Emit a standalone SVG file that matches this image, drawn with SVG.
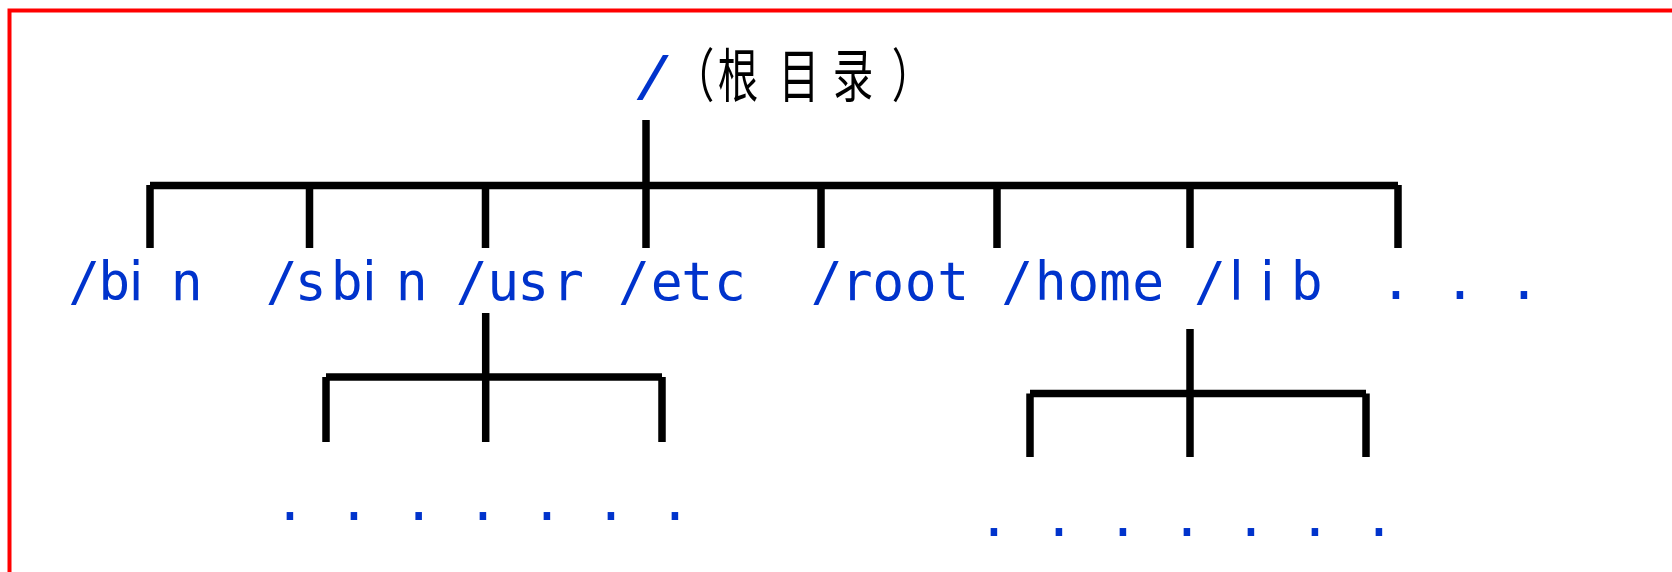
<svg xmlns="http://www.w3.org/2000/svg" width="1672" height="572" viewBox="0 0 1672 572">
  <style>
    .lbl { font-family: "DejaVu Sans Mono", "Liberation Mono", monospace; font-size: 53px; fill: #0033cc; text-anchor: middle; }
    .thin { font-family: "DejaVu Sans", "Liberation Sans", sans-serif; }
    .cn { font-family: "Noto Sans CJK SC", "Noto Sans CJK JP", sans-serif; font-size: 58px; fill: #000000; text-anchor: middle; }
    .slash { font-family: "DejaVu Sans", "Liberation Sans", sans-serif; font-weight: bold; font-size: 55px; fill: #0033cc; text-anchor: middle; }
    .wire { fill: none; stroke: #000000; stroke-width: 7.5; stroke-linecap: butt; }
  </style>

  <rect x="0" y="0" width="1672" height="572" fill="#ffffff"/>
  <!-- frame: left and top edges only -->
  <path d="M9.5,572 V10.5 H1672" fill="none" stroke="#ff0000" stroke-width="4"/>

  <!-- tree connectors -->
  <g id="connectors" class="wire">
    <!-- root trunk and main bus -->
    <path d="M646,120 V185.5"/>
    <path d="M150,185.5 H1398"/>
    <path d="M150,185 V248 M309.5,185 V248 M485.5,185 V248 M646,185 V248 M821,185 V248 M997,185 V248 M1190,185 V248 M1398,185 V248"/>
    <!-- /usr branch -->
    <path d="M485.7,313 V442"/>
    <path d="M326,377 H662"/>
    <path d="M326,377 V442 M662,377 V442"/>
    <!-- /home branch -->
    <path d="M1190,329 V457"/>
    <path d="M1030,393.5 H1366"/>
    <path d="M1030,393.5 V457 M1366,393.5 V457"/>
  </g>

  <!-- root directory -->
  <g id="node-root">
    <text class="slash" transform="translate(648,95) skewX(-15)" x="0" y="0">/</text>
    <text class="cn" transform="scale(0.7,1)" x="991.4 1054.3 1141.4 1218.6 1302.9" y="97">（根目录）</text>
  </g>

  <!-- first-level directories -->
  <g id="node-bin">
    <text class="lbl" y="300"><tspan x="84.2">/</tspan><tspan x="114.2">b</tspan><tspan class="thin" x="136">i</tspan><tspan x="186.7">n</tspan></text>
  </g>
  <g id="node-sbin">
    <text class="lbl" y="300"><tspan x="281.7">/</tspan><tspan x="310.7">s</tspan><tspan x="346.7">b</tspan><tspan class="thin" x="369.3">i</tspan><tspan x="411.7">n</tspan></text>
  </g>
  <g id="node-usr">
    <text class="lbl" x="471.7 503.3 533.3 568" y="300">/usr</text>
  </g>
  <g id="node-etc">
    <text class="lbl" x="634 666.7 697.3 730" y="300">/etc</text>
  </g>
  <g id="node-rootdir">
    <text class="lbl" x="826.7 856.7 888.3 920.7 953.3" y="300">/root</text>
  </g>
  <g id="node-home">
    <text class="lbl" x="1017.3 1050.7 1083.3 1115 1148.3" y="300">/home</text>
  </g>
  <g id="node-lib">
    <text class="lbl" y="300"><tspan x="1210">/</tspan><tspan class="thin" x="1236.3">l</tspan><tspan class="thin" x="1267.3">i</tspan><tspan x="1306.7">b</tspan></text>
  </g>
  <g id="node-more">
    <text class="lbl" x="1396 1460 1524" y="299">...</text>
  </g>

  <!-- subdirectory placeholders -->
  <g id="node-usr-children">
    <text class="lbl" x="290 354 418.7 483 547 611 675" y="520">.......</text>
  </g>
  <g id="node-home-children">
    <text class="lbl" x="994 1059 1123 1187 1251 1315 1379" y="536">.......</text>
  </g>
</svg>
